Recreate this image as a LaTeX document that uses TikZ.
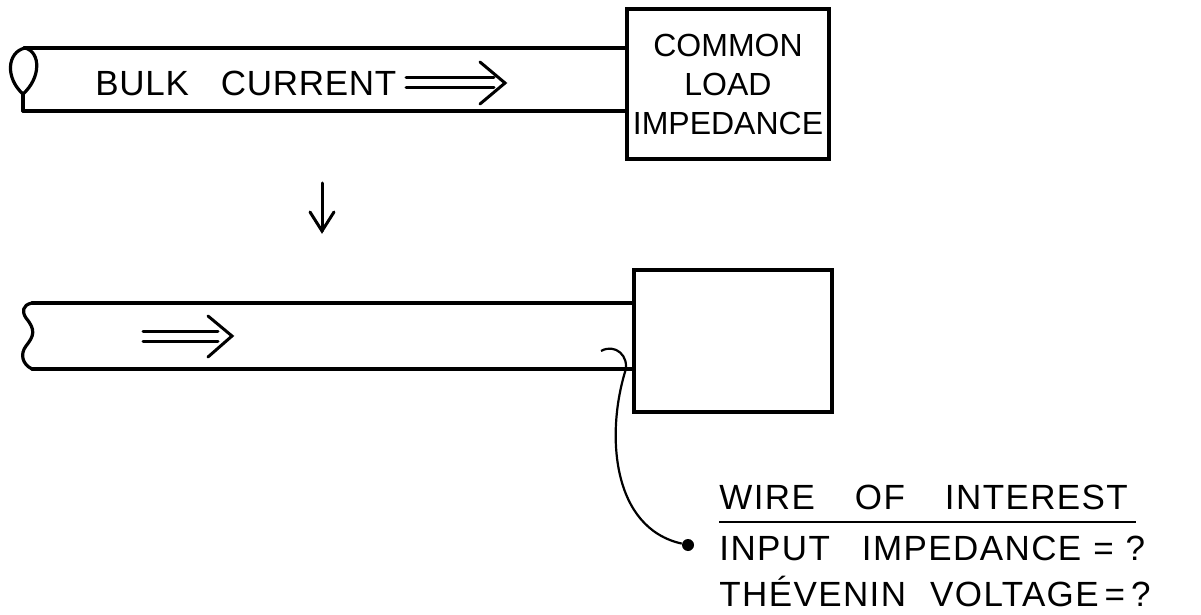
\documentclass[tikz,border=0pt]{standalone}
\usepackage{fontspec}
\setmainfont{Liberation Sans}
\usepackage{tikz}
\usetikzlibrary{positioning,calc,backgrounds}
\pgfdeclarelayer{edgelayer}
\pgfdeclarelayer{nodelayer}
\pgfsetlayers{background,edgelayer,nodelayer,main}
\newfontfamily\letterfont[LetterSpace=4]{Liberation Sans}
\newfontfamily\bulkfont[LetterSpace=2]{Liberation Sans}
\tikzstyle{every picture}=[x=0.5pt,y=-0.5pt]
\tikzstyle{tube}=[line width=1.6pt,line cap=round,line join=round]
\tikzstyle{load}=[draw,line width=1.6pt,inner sep=0pt,align=center,font=\fontsize{16}{19.5}\selectfont]
\tikzstyle{lettering}=[inner sep=0pt,anchor=west,font=\fontsize{17.5}{20}\letterfont]
\tikzstyle{flow}=[line width=1.5pt,line cap=round]
\tikzstyle{wire}=[line width=1.1pt]
\tikzstyle{wire dot}=[circle,fill=black,inner sep=0pt,minimum size=6pt]

\begin{document}
\begin{tikzpicture}
	\useasboundingbox (0,0) rectangle (1201,615);
	\begin{pgfonlayer}{nodelayer}
		\node [style=load,minimum width=101pt,minimum height=75pt] (load1) at (728,84) {COMMON\\LOAD\\IMPEDANCE};
		\node [style=load,minimum width=99pt,minimum height=71pt] (load2) at (733,341) {};
		\node [style=lettering,font=\fontsize{17.5}{20}\bulkfont] (bulk) at (95,83) {BULK\hspace{16pt}CURRENT};
		\node [style=lettering] (woi) at (719,497) {WIRE\hspace{20pt}OF\hspace{20pt}INTEREST};
		\node [style=lettering] (zin) at (719,548) {INPUT\hspace{16pt}IMPEDANCE\hspace{6pt}=\hspace{6pt}?};
		\node [style=lettering] (vth) at (719,591) {THÉVENIN\hspace{12pt}VOLTAGE\hspace{3pt}=\hspace{3pt}?};
		\node [style=wire dot] (tap) at (688,545) {};
		\coordinate (dtop) at (322,183);
		\coordinate (dbot) at (322,231);
		\coordinate (hook) at (601,351);
	\end{pgfonlayer}
	\begin{pgfonlayer}{edgelayer}
		% bundle before the change
		\draw [style=tube] (24,48) -- (load1.west |- 0,48);
		\draw [style=tube] (23,111) -- (load1.west |- 0,111);
		\draw [style=tube] (25,48) .. controls (7,52) and (5,78) .. (23,94)
			.. controls (41,78) and (41,52) .. (25,48);
		\draw [style=tube] (23,94) -- (23,111);
		\draw [style=flow] (406,78) -- (494,78) (406,88) -- (494,88);
		\draw [style=flow] (480,62) -- (505,83) -- (480,104);
		% bundle after the change
		\draw [style=tube] (32,303) -- (load2.west |- 0,303);
		\draw [style=tube] (32,369) -- (load2.west |- 0,369);
		\draw [style=tube] (32,303) .. controls (22,305) and (22,312) .. (26,318)
			.. controls (36,330) and (34,336) .. (26,346)
			.. controls (20,354) and (22,364) .. (32,369);
		\draw [style=flow] (143,331) -- (218,331) (143,341) -- (218,341);
		\draw [style=flow] (208,316) -- (232,336) -- (208,357);
		\draw [style=flow] (dtop) -- (dbot);
		\draw [style=flow] (310,212) -- (dbot) -- (334,212);
		% wire of interest
		\draw [style=wire] (hook) .. controls (615,343) and (630,356) .. (625,372)
			.. controls (606,435) and (612,528) .. (tap);
		\draw [line width=1.1pt] (woi.south west) ++(0,12) -- ++(417,0);
	\end{pgfonlayer}
\end{tikzpicture}
\end{document}
